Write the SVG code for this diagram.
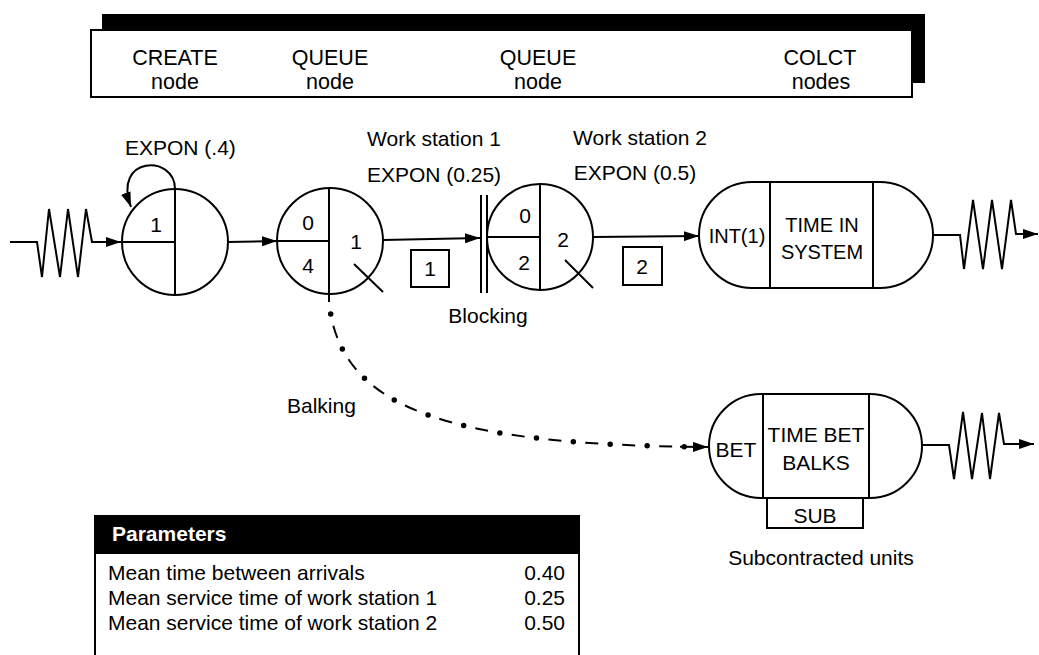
<svg xmlns="http://www.w3.org/2000/svg" width="1039" height="655" viewBox="0 0 1039 655">
<defs>
<marker id="ah" viewBox="0 0 15 10" refX="15" refY="5" markerWidth="15" markerHeight="10" orient="auto" markerUnits="userSpaceOnUse"><path d="M0,0 L15,5 L0,10 z" fill="#000"/></marker>
<style>
text{font-family:"Liberation Sans",Arial,Helvetica,sans-serif;fill:#000;font-size:21px}
.h{font-size:21.5px;text-anchor:middle}
.c{text-anchor:middle}
.s{fill:none;stroke:#000;stroke-width:2}
.w{fill:#fff;stroke:#000;stroke-width:2}
.ln{fill:none;stroke:#000;stroke-width:2}
</style>
</defs>
<rect width="1039" height="655" fill="#fff"/>

<g id="header">
<path d="M102,14 L925,14 L925,83 L912,83 L912,30 L102,30 z" fill="#000"/>
<rect x="91" y="30" width="821" height="67" class="w"/>
<text x="175" y="65" class="h">CREATE</text>
<text x="175" y="89" class="h">node</text>
<text x="330" y="65" class="h">QUEUE</text>
<text x="330" y="89" class="h">node</text>
<text x="538" y="65" class="h">QUEUE</text>
<text x="538" y="89" class="h">node</text>
<text x="820" y="65" class="h">COLCT</text>
<text x="821" y="89" class="h">nodes</text>
</g>

<g id="create">
<circle cx="175" cy="242" r="53" class="w"/>
<line x1="175" y1="189" x2="175" y2="295" class="ln"/>
<line x1="122" y1="242" x2="175" y2="242" class="ln"/>
<text x="156" y="232" class="c">1</text>
<text x="125" y="155">EXPON (.4)</text>
</g>

<g id="queue1">
<circle cx="330" cy="241" r="53" class="w"/>
<line x1="329" y1="188" x2="329" y2="302" class="ln"/>
<line x1="277" y1="241" x2="329" y2="241" class="ln"/>
<line x1="354" y1="264" x2="383" y2="292" class="ln"/>
<text x="308" y="230" class="c">0</text>
<text x="308" y="273" class="c">4</text>
<text x="356" y="249" class="c">1</text>
</g>

<g id="ws1label">
<text x="434" y="146" class="c">Work station 1</text>
<text x="434" y="182" class="c">EXPON (0.25)</text>
<rect x="411" y="250" width="38" height="37" class="w"/>
<text x="430" y="276" class="c">1</text>
</g>

<g id="blocking">
<line x1="481" y1="195" x2="481" y2="293" class="ln"/>
<line x1="487" y1="195" x2="487" y2="293" class="ln"/>
<text x="488" y="323" class="c">Blocking</text>
</g>

<g id="queue2">
<circle cx="540" cy="237" r="53" class="w"/>
<line x1="540" y1="184" x2="540" y2="290" class="ln"/>
<line x1="487" y1="237" x2="540" y2="237" class="ln"/>
<line x1="565" y1="260" x2="593" y2="288" class="ln"/>
<text x="525" y="223" class="c">0</text>
<text x="524" y="270" class="c">2</text>
<text x="563" y="247" class="c">2</text>
</g>

<g id="ws2label">
<text x="640" y="145" class="c">Work station 2</text>
<text x="635" y="180" class="c">EXPON (0.5)</text>
<rect x="623" y="247" width="39" height="38" class="w"/>
<text x="642" y="274" class="c">2</text>
</g>

<g id="colct1">
<rect x="699" y="182" width="234" height="106" rx="53" ry="53" class="w"/>
<line x1="770" y1="182" x2="770" y2="288" class="ln"/>
<line x1="873" y1="182" x2="873" y2="288" class="ln"/>
<text x="737" y="243" class="c" style="font-size:20px">INT(1)</text>
<text x="822" y="232" class="c" style="font-size:20px">TIME IN</text>
<text x="822" y="259" class="c" style="font-size:20px">SYSTEM</text>
</g>

<g id="colct2">
<rect x="767" y="498" width="96" height="30" class="w"/>
<text x="815" y="523" class="c">SUB</text>
<rect x="709" y="394" width="213" height="104" rx="52" ry="52" class="w"/>
<line x1="763" y1="394" x2="763" y2="498" class="ln"/>
<line x1="869" y1="394" x2="869" y2="498" class="ln"/>
<text x="736" y="457" class="c">BET</text>
<text x="816" y="442" class="c">TIME BET</text>
<text x="816" y="470" class="c">BALKS</text>
<text x="821" y="565" class="c">Subcontracted units</text>
</g>

<g id="balking">
<text x="287" y="413">Balking</text>
</g>

<g id="params">
<rect x="95" y="515" width="485" height="39" fill="#000"/>
<line x1="95" y1="515" x2="95" y2="655" class="ln"/>
<line x1="579" y1="515" x2="579" y2="655" class="ln"/>
<text x="112" y="541" style="font-weight:bold;fill:#fff;font-size:21px">Parameters</text>
<text x="108" y="580">Mean time between arrivals</text>
<text x="108" y="605">Mean service time of work station 1</text>
<text x="108" y="630">Mean service time of work station 2</text>
<text x="565" y="580" text-anchor="end">0.40</text>
<text x="565" y="605" text-anchor="end">0.25</text>
<text x="565" y="630" text-anchor="end">0.50</text>
</g>

<g id="connectors">
<polyline points="10,242 37,242 42,277 49,209 60,277 68,209 78,277 86,209 92,242 121,242" class="s" marker-end="url(#ah)"/>
<path d="M175,189 C175,154 112,156 131,207" class="s" marker-end="url(#ah)"/>
<line x1="228" y1="242" x2="277" y2="241" class="ln" marker-end="url(#ah)"/>
<line x1="383" y1="240" x2="480" y2="238" class="ln" marker-end="url(#ah)"/>
<line x1="593" y1="237" x2="699" y2="236" class="ln" marker-end="url(#ah)"/>
<polyline points="933,235 960,235 964,269 973,200 983,269 992,200 1002,269 1011,200 1016,234 1038,234" class="s" marker-end="url(#ah)"/>
<polyline points="922,445 949,445 954,479 963,412 972,479 982,413 990,479 999,413 1004,444 1034,444" class="s" marker-end="url(#ah)"/>
<path d="M329,302 C340,410 450,445 708,447" fill="none" stroke="#000" stroke-width="2" stroke-dasharray="13 24" stroke-dashoffset="-24"/>
<path d="M329,302 C340,410 450,445 708,447" fill="none" stroke="#000" stroke-width="5.5" stroke-linecap="round" stroke-dasharray="0 37" stroke-dashoffset="-12"/>
<path d="M680,446.8 L708,447" class="ln" marker-end="url(#ah)"/>
</g>
</svg>
